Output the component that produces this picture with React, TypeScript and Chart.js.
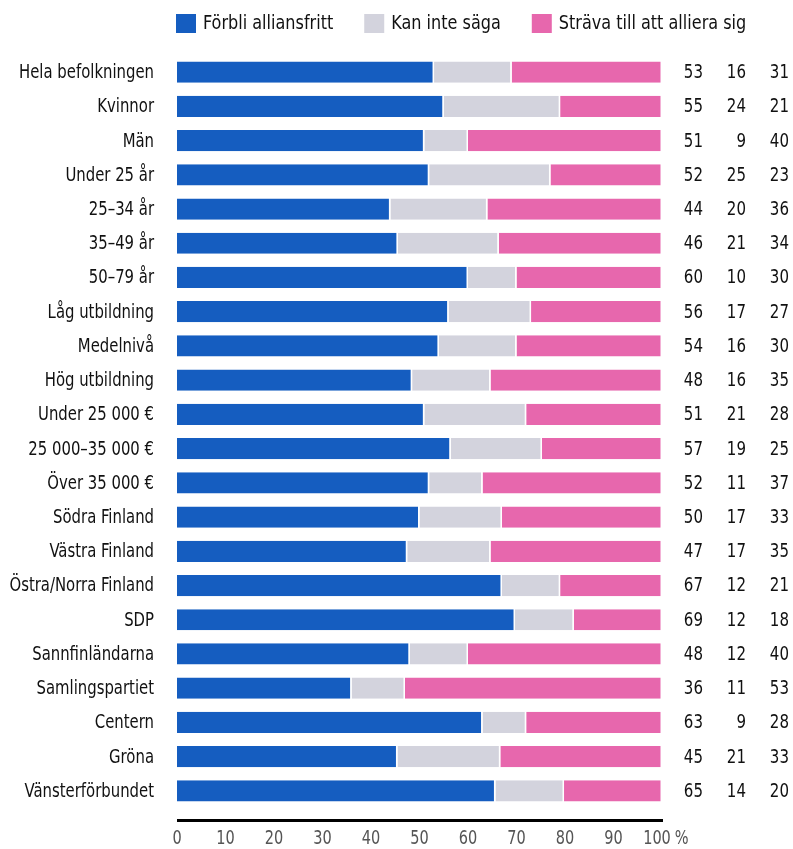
import React, { useEffect, useRef } from "react";
import { Chart, registerables } from "chart.js";

Chart.register(...registerables);

const categories = [
  "Hela befolkningen",
  "Kvinnor",
  "Män",
  "Under 25 år",
  "25–34 år",
  "35–49 år",
  "50–79 år",
  "Låg utbildning",
  "Medelnivå",
  "Hög utbildning",
  "Under 25 000 €",
  "25 000–35 000 €",
  "Över 35 000 €",
  "Södra Finland",
  "Västra Finland",
  "Östra/Norra Finland",
  "SDP",
  "Sannfinländarna",
  "Samlingspartiet",
  "Centern",
  "Gröna",
  "Vänsterförbundet",
];

const seriesNames = ["Förbli alliansfritt", "Kan inte säga", "Sträva till att alliera sig"];

const forbliAlliansfritt = [53, 55, 51, 52, 44, 46, 60, 56, 54, 48, 51, 57, 52, 50, 47, 67, 69, 48, 36, 63, 45, 65];
const kanInteSaga = [16, 24, 9, 25, 20, 21, 10, 17, 16, 16, 21, 19, 11, 17, 17, 12, 12, 12, 11, 9, 21, 14];
const stravaAttAlliera = [31, 21, 40, 23, 36, 34, 30, 27, 30, 35, 28, 25, 37, 33, 35, 21, 18, 40, 53, 28, 33, 20];

const xTicks = [0, 10, 20, 30, 40, 50, 60, 70, 80, 90, 100];

const colors = ["#155DC0", "#D3D3DD", "#E767AD"];

const FONT = '"DejaVu Sans Condensed", "Liberation Sans Narrow", "Noto Sans", sans-serif';

const raw = [forbliAlliansfritt, kanInteSaga, stravaAttAlliera];
const totals = categories.map((_, i) => raw.reduce((s, arr) => s + arr[i], 0));
const normalized = raw.map((arr) => arr.map((v, i) => (v / totals[i]) * 100));

function narrowText(ctx: any, text: string, x: number, y: number, align: CanvasTextAlign, sx: number) {
  ctx.save();
  ctx.translate(x, y);
  ctx.scale(sx, 1);
  ctx.textAlign = align;
  ctx.fillText(text, 0, 0);
  ctx.restore();
}

const overlayPlugin = {
  id: "overlay",
  afterDraw(chart: any) {
    const ctx = chart.ctx;
    const area = chart.chartArea;
    const yScale = chart.scales.y;
    const xScale = chart.scales.x;
    ctx.save();
    ctx.textBaseline = "middle";

    // legend
    ctx.font = `19px ${FONT}`;
    const lsx = 0.94;
    let lx = 176;
    const ly = 23.5;
    seriesNames.forEach((name, i) => {
      ctx.fillStyle = colors[i];
      ctx.fillRect(lx, ly - 9.5, 20, 19);
      ctx.fillStyle = "#111";
      narrowText(ctx, name, lx + 27, ly + 1, "left", lsx);
      lx += 27 + ctx.measureText(name).width * lsx + 31;
    });

    // category labels
    ctx.font = `19px ${FONT}`;
    ctx.fillStyle = "#111";
    categories.forEach((c, i) => {
      const y = yScale.getPixelForValue(i);
      narrowText(ctx, c, area.left - 23, y + 1, "right", 0.87);
    });

    // right-side values
    ctx.font = `19px ${FONT}`;
    const cols = [703, 746, 789];
    categories.forEach((_, i) => {
      const y = yScale.getPixelForValue(i);
      raw.forEach((arr, k) => {
        narrowText(ctx, String(arr[i]), cols[k], y + 1, "right", 0.88);
      });
    });

    // axis line
    ctx.strokeStyle = "#000";
    ctx.lineWidth = 3;
    ctx.beginPath();
    ctx.moveTo(area.left, area.bottom + 12.5);
    ctx.lineTo(area.right + 1, area.bottom + 12.5);
    ctx.stroke();

    // x tick labels
    ctx.font = `19px ${FONT}`;
    ctx.fillStyle = "#555";
    xTicks.forEach((v) => {
      const x = xScale.getPixelForValue(v);
      if (v === 100) {
        const w = ctx.measureText(String(v)).width * 0.85;
        const cx = x - 5;
        narrowText(ctx, String(v), cx, area.bottom + 31, "center", 0.85);
        narrowText(ctx, "%", cx + w / 2 + 4, area.bottom + 31, "left", 0.85);
      } else {
        narrowText(ctx, String(v), x, area.bottom + 31, "center", 0.85);
      }
    });
    ctx.restore();
  },
};

export default function App() {
  const ref = useRef<HTMLCanvasElement | null>(null);
  useEffect(() => {
    if (!ref.current) return;
    const chart = new Chart(ref.current, {
      type: "bar",
      data: {
        labels: categories,
        datasets: seriesNames.map((name, k) => ({
          label: name,
          data: normalized[k],
          backgroundColor: colors[k],
          borderColor: "#ffffff",
          borderWidth: { left: 0, right: 1.5, top: 0, bottom: 0 },
          borderSkipped: false,
          barPercentage: 0.62,
          categoryPercentage: 1,
        })),
      },
      options: {
        indexAxis: "y",
        animation: false,
        responsive: true,
        maintainAspectRatio: false,
        layout: { padding: { left: 0, right: 131, top: 55, bottom: 0 } },
        plugins: {
          legend: { display: false },
          tooltip: { enabled: false },
          title: { display: false },
        },
        scales: {
          x: {
            stacked: true,
            min: 0,
            max: 100,
            afterBuildTicks(scale: any) {
              scale.ticks = xTicks.map((v) => ({ value: v }));
            },
            afterFit(scale: any) {
              scale.height = 41;
            },
            grid: { display: false, drawTicks: false },
            border: { display: false },
            ticks: { display: false },
          },
          y: {
            stacked: true,
            afterFit(scale: any) {
              scale.width = 177;
            },
            grid: { display: false, drawTicks: false },
            border: { display: false },
            ticks: { display: false, autoSkip: false },
          },
        },
      },
      plugins: [overlayPlugin],
    } as any);
    return () => chart.destroy();
  }, []);
  return (
    <div style={{ position: "absolute", left: 0, top: 0, width: 793, height: 849, background: "#fff" }}>
      <canvas ref={ref} />
    </div>
  );
}
